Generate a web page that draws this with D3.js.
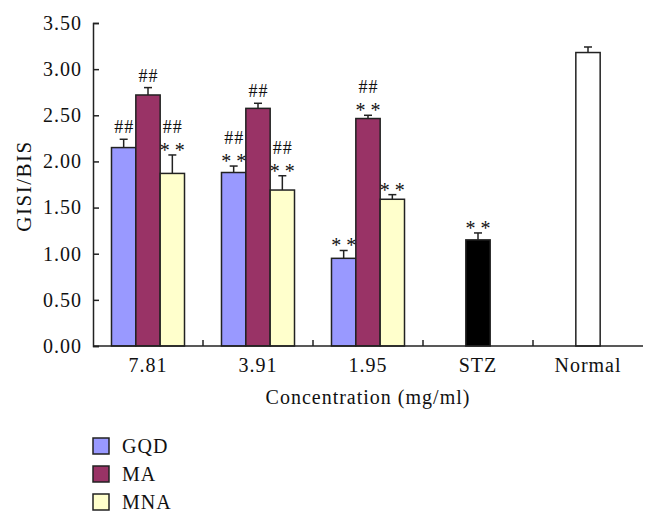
<!DOCTYPE html>
<html><head><meta charset="utf-8">
<script src="https://cdn.jsdelivr.net/npm/d3@7"></script>
<style>body{margin:0;background:#fff}svg{display:block}text{font-family:"Liberation Serif","Times New Roman",serif;fill:#111}</style>
</head><body><svg id="c" width="657" height="524"></svg>
<script>
const categories = ["7.81","3.91","1.95","STZ","Normal"];
const series = ["GQD","MA","MNA"];
const seriesColors = ["#9999ff","#993366","#ffffcc"];
const gqd = [2.15, 1.88, 0.95];
const gqdErr = [0.09, 0.07, 0.085];
const ma = [2.72, 2.575, 2.465];
const maErr = [0.08, 0.055, 0.035];
const mna = [1.87, 1.69, 1.59];
const mnaErr = [0.20, 0.155, 0.05];
const gqdMarks = [["##"],["##","* *"],["* *"]];
const maMarks = [["##"],["##"],["##","* *"]];
const mnaMarks = [["##","* *"],["##","* *"],["* *"]];
const singles = [{cat:"STZ", value:1.15, err:0.075, color:"#000000", marks:["* *"]},
                 {cat:"Normal", value:3.18, err:0.06, color:"#ffffff", marks:[]}];
const yTicks = [0,0.5,1,1.5,2,2.5,3,3.5];

const svg = d3.select("#c");
const m = {l:93, r:643, t:23, b:346};
const y = d3.scaleLinear().domain([0,3.5]).range([m.b, m.t]);
const x0 = d3.scaleBand().domain(categories).range([m.l, m.r]).padding(0);
const x1 = d3.scaleBand().domain(series).range([0, x0.bandwidth()]).paddingInner(0).paddingOuter(0.76);
const bw = x1.bandwidth();

const bars = [];
const vals = [gqd, ma, mna], errs = [gqdErr, maErr, mnaErr], marks = [gqdMarks, maMarks, mnaMarks];
series.forEach((s,si)=>{
  vals[si].forEach((v,ci)=>{
    bars.push({x: x0(categories[ci]) + x1(s), value: v, err: errs[si][ci], color: seriesColors[si], marks: marks[si][ci]});
  });
});
singles.forEach(d=>{
  bars.push({x: x0(d.cat) + x0.bandwidth()/2 - bw/2, value: d.value, err: d.err, color: d.color, marks: d.marks});
});

const g = svg.append("g");
bars.forEach(d=>{
  const cx = d.x + bw/2;
  g.append("line").attr("x1",cx).attr("x2",cx).attr("y1",y(d.value)).attr("y2",y(d.value+d.err)).attr("stroke","#222").attr("stroke-width",1.5);
  g.append("line").attr("x1",cx-4).attr("x2",cx+4).attr("y1",y(d.value+d.err)).attr("y2",y(d.value+d.err)).attr("stroke","#222").attr("stroke-width",1.5);
});
g.selectAll("rect.bar").data(bars).join("rect").attr("class","bar")
  .attr("x",d=>d.x).attr("width",bw).attr("y",d=>y(d.value)).attr("height",d=>y(0)-y(d.value))
  .attr("fill",d=>d.color).attr("stroke","#222").attr("stroke-width",1.5);

bars.forEach(d=>{
  const cx = d.x + bw/2;
  const top = y(d.value+d.err);
  const ms = d.marks.slice().reverse();
  let base = top;
  ms.forEach(t=>{
    const isStar = t.indexOf("*")>=0;
    const by = isStar ? base + 2 : base - 6;
    g.append("text").attr("x",cx + (isStar ? 0 : 0.5)).attr("y",by).attr("text-anchor","middle")
      .attr("font-size", isStar ? 20 : 18).attr("letter-spacing", isStar ? 0 : 1).text(t);
    base = isStar ? base - 16 : base - 22;
  });
});

const yAxis = d3.axisLeft(y).tickValues(yTicks).tickFormat(d3.format(".2f")).tickSize(-6).tickPadding(11);
const ya = svg.append("g").attr("transform",`translate(${m.l},0)`).call(yAxis);
ya.select(".domain").attr("stroke","#222").attr("stroke-width",1.5);
ya.selectAll(".tick line").attr("stroke","#222").attr("stroke-width",1.5);
ya.selectAll(".tick text").attr("font-size",20).attr("letter-spacing",1).attr("font-family","Liberation Serif").attr("fill","#111");

const xBounds = d3.scaleLinear().domain([0,categories.length]).range([m.l,m.r]);
const xa = svg.append("g").attr("transform",`translate(0,${m.b})`);
xa.append("line").attr("x1",m.l).attr("x2",m.r).attr("y1",0).attr("y2",0).attr("stroke","#222").attr("stroke-width",1.5);
d3.range(1,categories.length).forEach(i=>{
  xa.append("line").attr("x1",xBounds(i)).attr("x2",xBounds(i)).attr("y1",0).attr("y2",-6).attr("stroke","#222").attr("stroke-width",1.5);
});
categories.forEach(c=>{
  xa.append("text").attr("x",x0(c)+x0.bandwidth()/2).attr("y",26).attr("text-anchor","middle").attr("font-size",20).attr("letter-spacing",1).text(c);
});
svg.append("text").attr("x",(m.l+m.r)/2).attr("y",404).attr("text-anchor","middle").attr("font-size",20).attr("letter-spacing",1).text("Concentration (mg/ml)");
svg.append("text").attr("transform",`translate(31,186) rotate(-90)`).attr("text-anchor","middle").attr("font-size",21).attr("letter-spacing",1.5).text("GISI/BIS");

const lg = svg.append("g");
series.forEach((s,i)=>{
  const yy = 438 + i*28;
  lg.append("rect").attr("x",93).attr("y",yy).attr("width",16).attr("height",16).attr("fill",seriesColors[i]).attr("stroke","#222").attr("stroke-width",1.5);
  lg.append("text").attr("x",122).attr("y",yy+15).attr("font-size",20).attr("letter-spacing",1).text(s);
});
</script></body></html>
